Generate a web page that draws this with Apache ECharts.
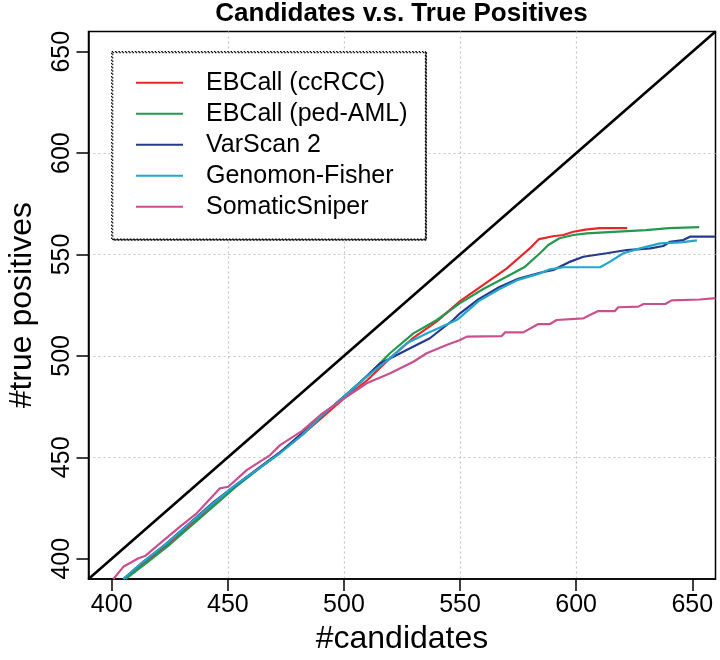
<!DOCTYPE html>
<html>
<head>
<meta charset="utf-8">
<script src="https://cdn.jsdelivr.net/npm/echarts@6/dist/echarts.min.js"></script>
<style>html,body{margin:0;padding:0;background:#fff}#c{width:720px;height:660px}</style>
</head>
<body>
<div id="c"></div>
<script>
const seriesNames = ['EBCall (ccRCC)', 'EBCall (ped-AML)', 'VarScan 2', 'Genomon-Fisher', 'SomaticSniper'];
const xTicks = [400, 450, 500, 550, 600, 650];
const yTicks = [400, 450, 500, 550, 600, 650];
const diagonal = [[390, 390], [660, 660]];

const ebcallCcrcc = [[405,390],[414,398],[424,407],[434,417],[445,428],[452,435],[462,443.5],[472,452],[482,461],[490,469],[500,479],[510,488],[520,499],[530,509],[540,517],[550,527],[560,535],[570,543],[576,549],[580,553],[584,557.6],[590,559],[594.5,559.6],[598.8,561.2],[604,562.3],[610,563],[622,563]];
const ebcallPedAml = [[406,390],[415,398],[425,407],[435,417],[446,428],[453,435],[463,444],[472,452],[482,461],[490,470],[500,480],[510,490],[519.8,501.3],[529.9,511.1],[540,517.7],[550,526],[560,533],[570,539],[578,544],[584.4,550.6],[588,554.7],[592.8,558],[598.8,559.6],[604.5,560.4],[616,561.2],[630,562],[640,563],[653,563.5]];
const varScan2 = [[405,390],[413,398],[423,407],[433,417],[444,428],[452,435],[462,443.5],[472,452],[482,462],[490,470],[500,480],[507,487],[515.6,496.3],[527,502.9],[537,508.7],[547,517.7],[550,521],[558,528],[567,534],[575,538],[584.4,541],[590.2,542.4],[597.5,546.5],[603.1,548.9],[613.1,550.6],[621.8,552.2],[631.9,553],[637.5,554.2],[640.4,556.3],[646.1,557.1],[649,558.8],[660,558.8]];
const genomonFisher = [[405,390],[413.6,398.5],[423.7,407.6],[433.7,417.5],[443.7,427.3],[452.4,435.5],[462.4,443.7],[472.5,452],[482,461],[490,470],[500,480],[510,490],[519.8,498.8],[527,506.2],[535.6,511.1],[548.5,517.7],[550,519],[558,527],[567,533],[575,537.5],[584.4,540.7],[588.7,542.7],[594.5,543.7],[610.3,543.7],[614.6,546.5],[620.3,550.6],[627.5,553],[636.1,555.5],[645,556],[652,557]];
const somaticSniper = [[400.7,390],[405,396],[411.5,400.2],[414.3,401.3],[420.8,407.6],[429.4,415.8],[436.6,422.4],[446.6,434.7],[450.2,435.5],[458.1,443.7],[468.2,451.1],[472.5,456],[482,463],[490,471],[500,479],[509.8,486.5],[519.9,491.4],[529.9,497.1],[535.6,501.3],[544.2,505.4],[550,507.8],[552.9,509.5],[567.9,509.8],[569.4,511.6],[577.2,511.6],[583.7,515.7],[588.7,515.7],[591.6,517.7],[603.1,518.5],[605.2,519.8],[609.5,522.1],[616.7,522.1],[618.1,524],[626.8,524.3],[629,525.6],[638.4,525.6],[641.1,527.4],[653.3,527.8],[660,528.5]];

const colors = ['#e8262a', '#23994f', '#26398a', '#22a6cb', '#c9508e'];
const allData = [ebcallCcrcc, ebcallPedAml, varScan2, genomonFisher, somaticSniper];
const FONT = "'Liberation Sans', Arial, sans-serif";

const chart = echarts.init(document.getElementById('c'), null, {renderer: 'canvas'});
const series = [{
  type: 'line', name: 'diag', data: diagonal, showSymbol: false, symbol: 'none',
  lineStyle: {color: '#000', width: 2.6}, silent: true, z: 3
}];
seriesNames.forEach((n, i) => {
  series.push({
    type: 'line', name: n, data: allData[i], symbol: 'none', showSymbol: false,
    lineStyle: {color: colors[i], width: 2.2}, itemStyle: {color: colors[i]}, z: 4 + i
  });
});

chart.setOption({
  animation: false,
  backgroundColor: '#fff',
  title: {
    text: 'Candidates v.s. True Positives', left: 401.5, top: 1, textAlign: 'center', padding: 0,
    textStyle: {fontFamily: FONT, fontSize: 26, fontWeight: 'bold', color: '#000'}
  },
  grid: {left: 88.5, right: 4.5, top: 31.4, bottom: 81, show: true, borderColor: '#000', borderWidth: 1.5, outerBoundsMode: 'none', containLabel: false},
  legend: {
    orient: 'vertical', left: 111.7, top: 51.7,
    data: seriesNames,
    icon: 'rect', itemWidth: 47, itemHeight: 2, itemGap: 6,
    padding: [18.5, 18, 20, 24.3],
    backgroundColor: '#fff', borderColor: '#000', borderWidth: 1.2, borderType: [1.5, 1.8],
    shadowColor: 'rgba(0,0,0,0.9)', shadowOffsetX: 1, shadowOffsetY: 1, shadowBlur: 0,
    textStyle: {fontFamily: FONT, fontSize: 25, lineHeight: 25, color: '#000', padding: [0, 0, 0, 18]},
    selectedMode: false
  },
  xAxis: {
    type: 'value', min: 390, max: 660,
    name: '#candidates', nameLocation: 'middle', nameGap: 42,
    nameTextStyle: {fontFamily: FONT, fontSize: 32, color: '#000'},
    axisLine: {show: true, lineStyle: {color: '#000', width: 1.5}},
    axisTick: {show: true, inside: false, length: 12, customValues: xTicks, lineStyle: {color: '#000', width: 1.5}},
    axisLabel: {customValues: xTicks, margin: 14, fontFamily: FONT, fontSize: 25, color: '#000'},
    splitLine: {show: true, showMinLine: false, showMaxLine: false, lineStyle: {color: '#c4c4c4', width: 1.2, type: [2, 3]}}
  },
  yAxis: {
    type: 'value', min: 390, max: 660,
    name: '#true positives', nameLocation: 'middle', nameGap: 50, nameRotate: 90,
    nameTextStyle: {fontFamily: FONT, fontSize: 32, color: '#000'},
    axisLine: {show: true, lineStyle: {color: '#000', width: 1.5}},
    axisTick: {show: true, inside: false, length: 12, customValues: yTicks, lineStyle: {color: '#000', width: 1.5}},
    axisLabel: {customValues: yTicks, margin: 14, rotate: 90, fontFamily: FONT, fontSize: 25, color: '#000'},
    splitLine: {show: true, showMinLine: false, showMaxLine: false, lineStyle: {color: '#c4c4c4', width: 1.2, type: [2, 3]}}
  },
  series: series
});
</script>
</body>
</html>
